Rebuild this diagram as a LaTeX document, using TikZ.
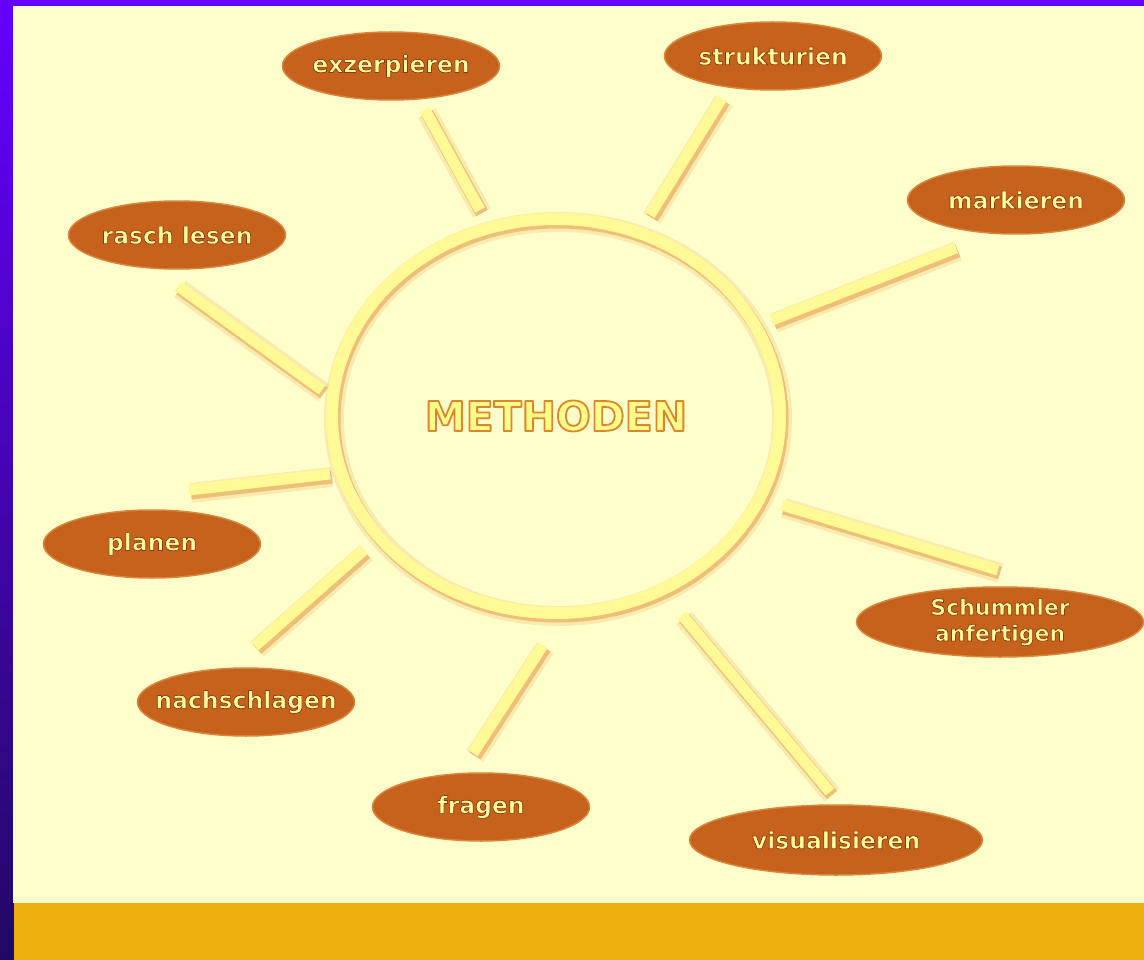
\documentclass[tikz,border=0pt]{standalone}
\usepackage{fontspec}
\setmainfont{DejaVu Sans}
\usetikzlibrary{shapes.geometric}
\definecolor{panel}{RGB}{255,255,204}
\definecolor{gold}{RGB}{237,176,12}
\definecolor{violetTop}{RGB}{102,0,255}
\definecolor{violetBot}{RGB}{34,8,100}
\definecolor{pill}{RGB}{198,98,28}
\definecolor{pilledge}{RGB}{216,132,60}
\definecolor{cream}{RGB}{255,255,160}
\definecolor{glow}{RGB}{226,140,50}
\definecolor{ringyellow}{RGB}{255,250,150}
\definecolor{titlefill}{RGB}{255,255,140}
% text filled in the current colour and stroked (width in bp, RGB stroke colour)
\newcommand\strokedtext[3]{\special{pdf:code q #1 w 1 j #2 RG 2 Tr}#3\special{pdf:code Q}}
\newcommand\pilltext[1]{\strokedtext{0.7}{0.55 0.22 0.04}{#1}}
\tikzset{
  pillnode/.style={ellipse, fill=pill, draw=pilledge, line width=1.5pt,
    inner xsep=-30pt, inner ysep=-12pt,
    minimum width=217pt, minimum height=68pt, text=cream, align=center,
    font=\fontsize{23.5}{23}\selectfont\bfseries},
  raybar/.style={draw=ringyellow, line width=11pt},
  ringstyle/.style={ellipse, draw=ringyellow, line width=12pt, inner sep=0pt,
    minimum width=448pt, minimum height=394pt, text=titlefill,
    font=\fontsize{41}{46}\selectfont\bfseries},
  glowwide/.style={draw=glow, opacity=0.18, line width=20pt},
  glownarrow/.style={draw=glow, opacity=0.45, line width=13pt}
}
\begin{document}
\begin{tikzpicture}[x=1pt,y=-1pt]
\useasboundingbox (0,0) rectangle (1144,960);
\shade[top color=violetTop, bottom color=violetBot] (0,0) rectangle (1144,960);
\fill[panel] (13,6) rectangle (1144,903);
\fill[gold] (14,903) rectangle (1144,960);

% ray end points
\coordinate (exzA) at (480,210);   \coordinate (exzB) at (425,110);
\coordinate (strA) at (650,215);   \coordinate (strB) at (722,98);
\coordinate (marA) at (772,320);   \coordinate (marB) at (956,248);
\coordinate (rasA) at (322,390);   \coordinate (rasB) at (178,286);
\coordinate (plaA) at (330,474);   \coordinate (plaB) at (189,490);
\coordinate (nacA) at (364,550);   \coordinate (nacB) at (255,646);
\coordinate (fraA) at (543,645);   \coordinate (fraB) at (473,753);
\coordinate (visA) at (682,615);   \coordinate (visB) at (830,792);
\coordinate (schA) at (782,505);   \coordinate (schB) at (998,570);

% soft shadows
\begin{scope}[transform canvas={shift={(2pt,-3pt)}}]
  \foreach \g in {glowwide,glownarrow}{
    \draw[\g] (556,416) ellipse [x radius=224, y radius=197];
    \draw[\g] (exzA) -- (exzB);
    \draw[\g] (strA) -- (strB);
    \draw[\g] (marA) -- (marB);
    \draw[\g] (rasA) -- (rasB);
    \draw[\g] (plaA) -- (plaB);
    \draw[\g] (nacA) -- (nacB);
    \draw[\g] (fraA) -- (fraB);
    \draw[\g] (visA) -- (visB);
    \draw[\g] (schA) -- (schB);
  }
\end{scope}

% rays
\draw[raybar] (exzA) -- (exzB);
\draw[raybar] (strA) -- (strB);
\draw[raybar] (marA) -- (marB);
\draw[raybar] (rasA) -- (rasB);
\draw[raybar] (plaA) -- (plaB);
\draw[raybar] (nacA) -- (nacB);
\draw[raybar] (fraA) -- (fraB);
\draw[raybar] (visA) -- (visB);
\draw[raybar] (schA) -- (schB);

% central ring
\node[ringstyle] (ring) at (556,416)
  {\strokedtext{1.8}{0.87 0.52 0.16}{METHODEN}};

% labels
\node[pillnode] (exz) at (391,66)  {\pilltext{exzerpieren}};
\node[pillnode] (str) at (773,56)  {\pilltext{strukturien}};
\node[pillnode] (mar) at (1016,200) {\pilltext{markieren}};
\node[pillnode] (ras) at (177,235) {\pilltext{rasch lesen}};
\node[pillnode] (pla) at (152,544) {\pilltext{planen}};
\node[pillnode] (nac) at (246,702) {\pilltext{nachschlagen}};
\node[pillnode] (fra) at (481,807) {\pilltext{fragen}};
\node[pillnode, minimum width=293pt, minimum height=70pt] (vis) at (836,840) {\pilltext{visualisieren}};
\node[pillnode, minimum width=287pt, minimum height=70pt,
      font=\fontsize{22}{26}\selectfont\bfseries] (sch) at (1000,622)
  {\pilltext{Schummler}\\\pilltext{anfertigen}};
\end{tikzpicture}
\end{document}
